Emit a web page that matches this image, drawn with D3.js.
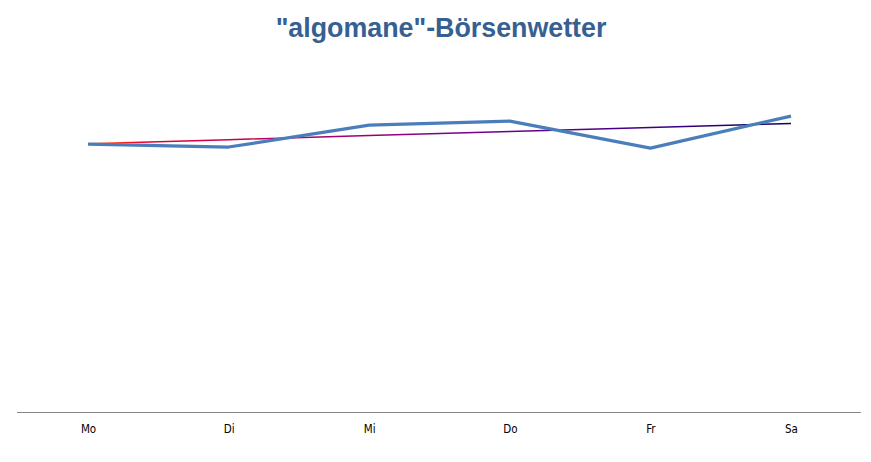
<!DOCTYPE html>
<html><head><meta charset="utf-8">
<script src="https://cdn.jsdelivr.net/npm/d3@7"></script>
<style>body{margin:0;background:#fff;}svg{display:block;}</style>
</head><body>
<svg id="c" width="871" height="462"></svg>
<script>
const categories = ["Mo","Di","Mi","Do","Fr","Sa"];
const values = [74.4, 73.6, 79.7, 80.8, 73.3, 82.2];
const titleText = '"algomane"-Börsenwetter';

const W = 871, H = 462;
const svg = d3.select("#c");
const plot = {left: 17, right: 861, top: 52, bottom: 412};

const x = d3.scalePoint().domain(categories).range([88, 791]);
const y = d3.scaleLinear().domain([0, 100]).range([plot.bottom, plot.top]);

// title
svg.append("text").attr("x", 441).attr("y", 37).attr("text-anchor", "middle")
  .attr("font-family", "Liberation Sans, Arial, sans-serif").attr("font-weight", "bold")
  .attr("font-size", 26.8).attr("fill", "#376092").text(titleText);

// axis
const axis = d3.axisBottom(x).tickSize(0).tickPadding(13);
const g = svg.append("g").attr("transform", `translate(0,${plot.bottom})`).call(axis);
g.select(".domain").remove();
g.append("line").attr("x1", plot.left).attr("x2", plot.right).attr("y1", 0.5).attr("y2", 0.5)
  .attr("stroke", "#868686").attr("stroke-width", 1.2);
g.selectAll(".tick text").attr("font-family", "Liberation Sans Narrow, DejaVu Sans Condensed, Arial, sans-serif")
  .attr("font-size", 11.5).attr("fill", "#000");

// linear trend (least squares)
const n = values.length;
const xs = d3.range(n);
const mx = d3.mean(xs), my = d3.mean(values);
const slope = d3.sum(xs, i => (i - mx) * (values[i] - my)) / d3.sum(xs, i => (i - mx) ** 2);
const icpt = my - slope * mx;
const trend = xs.map(i => icpt + slope * i);

const defs = svg.append("defs");
const grad = defs.append("linearGradient").attr("id", "tg")
  .attr("gradientUnits", "userSpaceOnUse")
  .attr("x1", x(categories[0])).attr("x2", x(categories[n-1])).attr("y1", 0).attr("y2", 0);
[[0, "#ff6a00"], [0.08, "#e8002a"], [0.3, "#b0006a"], [0.55, "#78008c"], [0.8, "#3c0088"], [1, "#14005a"]]
  .forEach(([o, c]) => grad.append("stop").attr("offset", o).attr("stop-color", c));

const line = d3.line().x((d, i) => x(categories[i])).y(d => y(d));

svg.append("path").datum(trend).attr("d", line).attr("fill", "none")
  .attr("stroke", "url(#tg)").attr("stroke-width", 1.5);

svg.append("path").datum(values).attr("d", line).attr("fill", "none")
  .attr("stroke", "#4a7ebb").attr("stroke-width", 3.2).attr("stroke-linejoin", "round");
</script>
</body></html>
